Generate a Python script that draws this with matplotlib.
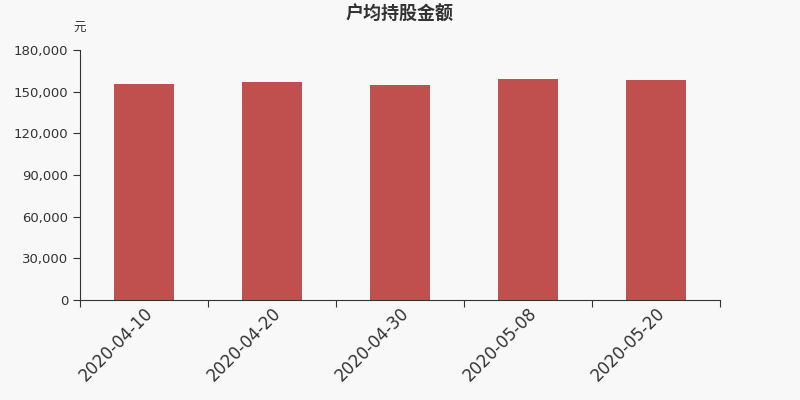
import numpy as np
import matplotlib.pyplot as plt
from matplotlib.ticker import FuncFormatter

plt.rcParams['font.family'] = ['DejaVu Sans', 'Noto Sans CJK SC']

# 数据
dates = ["2020-04-10", "2020-04-20", "2020-04-30", "2020-05-08", "2020-05-20"]
values = [155500, 157000, 154500, 158900, 158400]
yticks = [0, 30000, 60000, 90000, 120000, 150000, 180000]

bg = "#f8f8f8"
fig = plt.figure(figsize=(8, 4), dpi=100, facecolor=bg)
ax = fig.add_axes([0.1, 0.25, 0.8, 0.625], facecolor=bg)

x = np.arange(len(dates))
ax.bar(x, values, width=0.47, color="#c0504d", zorder=2)

ax.set_xlim(-0.5, len(dates) - 0.5)
ax.set_ylim(0, 180000)
ax.set_yticks(yticks)
ax.yaxis.set_major_formatter(FuncFormatter(lambda v, p: f"{int(v):,}"))

# 刻度线在类别之间，标签在类别中间
ax.set_xticks(np.arange(len(dates) + 1) - 0.5)
ax.set_xticklabels([])
ax.set_xticks(x, minor=True)
ax.set_xticklabels(dates, minor=True, rotation=45, ha="right", rotation_mode="anchor",
                   fontsize=12, color="#333333")
ax.tick_params(axis="x", which="minor", length=0, pad=3)
ax.tick_params(axis="x", which="major", length=5, color="#333333")
ax.tick_params(axis="y", length=5, color="#333333", labelsize=9.5, labelcolor="#333333")

for s in ["top", "right"]:
    ax.spines[s].set_visible(False)
for s in ["left", "bottom"]:
    ax.spines[s].set_color("#333333")

fig.text(0.5, 0.965, "户均持股金额", ha="center", va="center", fontsize=13,
         fontweight="bold", color="#333333", family=["Noto Sans CJK SC"])
fig.text(0.1, 0.93, "元", ha="center", va="center", fontsize=9, color="#333333",
         family=["Noto Sans CJK SC"])

fig.savefig("out.png", dpi=100, facecolor=bg)
